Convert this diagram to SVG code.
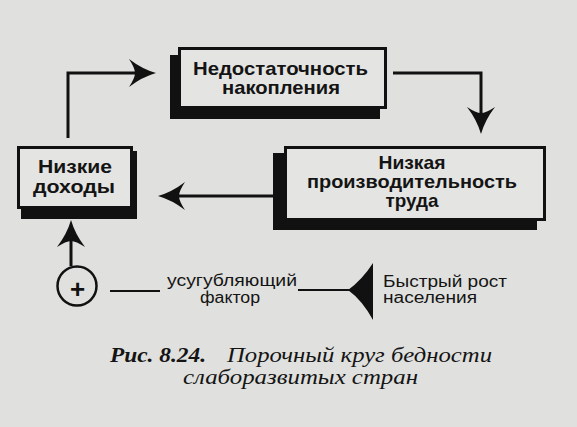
<svg xmlns="http://www.w3.org/2000/svg" width="577" height="427" viewBox="0 0 577 427">
<style>
.shadow{fill:#111}
.box{fill:#e4e4e2;stroke:#111;stroke-width:3}
.bt{font-family:"Liberation Sans",Arial,sans-serif;font-weight:bold;font-size:19px;fill:#141414;text-anchor:middle}
.rt{font-family:"Liberation Sans",Arial,sans-serif;font-size:16px;fill:#141414}
.cap{font-family:"Liberation Serif","Times New Roman",serif;font-style:italic;font-size:20px;fill:#141414}
.ln{fill:none;stroke:#111;stroke-width:3}
.thin{fill:none;stroke:#111;stroke-width:2}
</style>
<defs>
<marker id="ah" markerUnits="userSpaceOnUse" markerWidth="40" markerHeight="40" refX="20" refY="0" orient="auto" overflow="visible">
<path d="M27,0 Q13,-4 0,-14 Q6,-5 6,0 Q6,5 0,14 Q13,4 27,0 Z" fill="#111"/>
</marker>
</defs>
<rect x="0" y="0" width="577" height="427" fill="#e0e0de"/>
<g id="node-nakoplenie">
<rect class="shadow" x="170" y="55" width="210" height="64"/>
<rect class="box" x="179.5" y="48.5" width="206" height="59"/>
<text class="bt" x="280.5" y="75" textLength="175" lengthAdjust="spacingAndGlyphs">Недостаточность</text>
<text class="bt" x="281" y="94" textLength="118" lengthAdjust="spacingAndGlyphs">накопления</text>
</g>
<g id="node-proizvoditelnost">
<rect class="shadow" x="273" y="153" width="264" height="77"/>
<rect class="box" x="285.5" y="147.5" width="259" height="72"/>
<text class="bt" x="412" y="169" textLength="67" lengthAdjust="spacingAndGlyphs">Низкая</text>
<text class="bt" x="412" y="188" textLength="210" lengthAdjust="spacingAndGlyphs">производительность</text>
<text class="bt" x="412" y="207" textLength="53" lengthAdjust="spacingAndGlyphs">труда</text>
</g>
<g id="node-dohody">
<rect class="shadow" x="21" y="151" width="116" height="68"/>
<rect class="box" x="18.5" y="147.5" width="113" height="60"/>
<text class="bt" x="75" y="173" textLength="74" lengthAdjust="spacingAndGlyphs">Низкие</text>
<text class="bt" x="74" y="193" textLength="82" lengthAdjust="spacingAndGlyphs">доходы</text>
</g>
<g id="node-plus">
<circle cx="77" cy="286" r="19.5" fill="none" stroke="#111" stroke-width="2.5"/>
<text x="77.5" y="298" font-family="Liberation Sans,Arial,sans-serif" font-weight="bold" font-size="26" text-anchor="middle" fill="#111">+</text>
</g>
<g id="node-factor">
<text class="rt" x="167" y="286" textLength="130" lengthAdjust="spacingAndGlyphs">усугубляющий</text>
<text class="rt" x="200" y="303" textLength="60" lengthAdjust="spacingAndGlyphs">фактор</text>
</g>
<g id="node-rost">
<path d="M348,290 Q362,280 373,263 L373,320 Q362,300 348,290 Z" fill="#111"/>
<text class="rt" x="383" y="287" textLength="124" lengthAdjust="spacingAndGlyphs">Быстрый рост</text>
<text class="rt" x="383" y="303" textLength="94" lengthAdjust="spacingAndGlyphs">населения</text>
</g>
<g id="connectors">
<path class="ln" d="M68,138 V73 H149" marker-end="url(#ah)"/>
<path class="ln" d="M393,73 H481 V127" marker-end="url(#ah)"/>
<path class="ln" d="M273,196 H165" marker-end="url(#ah)"/>
<path class="ln" d="M71,266 V227" marker-end="url(#ah)"/>
<path class="thin" d="M110,291 H160"/>
<path class="thin" d="M298,290 H350"/>
</g>
<g id="caption">
<text class="cap" x="110" y="362" font-weight="bold" textLength="96" lengthAdjust="spacingAndGlyphs">Рис. 8.24.</text>
<text class="cap" x="227" y="362" textLength="265" lengthAdjust="spacingAndGlyphs">Порочный круг бедности</text>
<text class="cap" x="183" y="384" textLength="235" lengthAdjust="spacingAndGlyphs">слаборазвитых стран</text>
</g>
</svg>
